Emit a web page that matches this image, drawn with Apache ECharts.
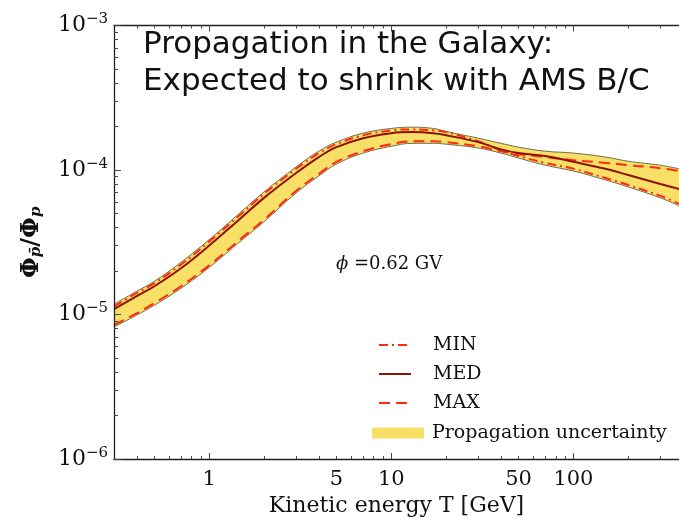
<!DOCTYPE html>
<html>
<head>
<meta charset="utf-8">
<script src="https://cdn.jsdelivr.net/npm/echarts@6/dist/echarts.min.js"></script>
<style>html,body{margin:0;padding:0;background:#fff;}#c{width:679px;height:522px;}</style>
</head>
<body>
<div id="c"></div>
<script>
// Kinetic energy T [GeV]
var energies = [0.3,0.4,0.5,0.7,1,1.5,2,3,4,5,7,10,13,17,20,30,40,50,70,100,150,200,300,380];
var minCurve = [1.14e-5,1.41e-5,1.65e-5,2.22e-5,3.20e-5,4.98e-5,6.84e-5,1.02e-4,1.31e-4,1.51e-4,1.74e-4,1.88e-4,1.91e-4,1.88e-4,1.83e-4,1.58e-4,1.37e-4,1.25e-4,1.12e-4,1.02e-4,8.81e-5,7.88e-5,6.63e-5,5.84e-5];
var medCurve = [1.09e-5,1.34e-5,1.57e-5,2.09e-5,3.00e-5,4.68e-5,6.42e-5,9.54e-5,1.23e-4,1.44e-4,1.66e-4,1.80e-4,1.83e-4,1.80e-4,1.74e-4,1.56e-4,1.39e-4,1.31e-4,1.25e-4,1.14e-4,1.02e-4,9.24e-5,8.01e-5,7.40e-5];
var maxCurve = [8.47e-6,1.02e-5,1.20e-5,1.57e-5,2.19e-5,3.36e-5,4.53e-5,7.17e-5,9.39e-5,1.14e-4,1.35e-4,1.51e-4,1.58e-4,1.58e-4,1.56e-4,1.46e-4,1.35e-4,1.29e-4,1.23e-4,1.17e-4,1.12e-4,1.08e-4,1.03e-4,9.84e-5];
var bandUpper = [1.18e-5,1.45e-5,1.70e-5,2.30e-5,3.30e-5,5.15e-5,7.06e-5,1.05e-4,1.35e-4,1.56e-4,1.80e-4,1.94e-4,1.98e-4,1.94e-4,1.85e-4,1.66e-4,1.53e-4,1.44e-4,1.35e-4,1.31e-4,1.23e-4,1.15e-4,1.08e-4,1.02e-4];
var bandLower = [8.21e-6,9.92e-6,1.16e-5,1.52e-5,2.12e-5,3.25e-5,4.39e-5,6.95e-5,9.10e-5,1.10e-4,1.31e-4,1.46e-4,1.53e-4,1.53e-4,1.51e-4,1.42e-4,1.31e-4,1.21e-4,1.08e-4,9.84e-5,8.54e-5,7.64e-5,6.42e-5,5.66e-5];

var xTickLabels = [1,5,10,50,100];
var xMajorTicks = [1,10,100];
var xMinorTicks = [0.4,0.5,0.6,0.7,0.8,0.9,2,3,4,5,6,7,8,9,20,30,40,50,60,70,80,90,200,300];
var yMajorTicks = [1e-6,1e-5,1e-4,1e-3];
var yMinorTicks = [2e-6,3e-6,4e-6,5e-6,6e-6,7e-6,8e-6,9e-6,2e-5,3e-5,4e-5,5e-5,6e-5,7e-5,8e-5,9e-5,2e-4,3e-4,4e-4,5e-4,6e-4,7e-4,8e-4,9e-4];
var xRange = [0.3, 380];
var yRange = [1e-6, 1e-3];

var SERIF = '"DejaVu Serif", serif';
function pairs(ys){ return energies.map(function(t,i){ return [t, ys[i]]; }); }

function xAx(pos, ticks, len, showLine, labels){
  return {
    type:'log', min:xRange[0], max:xRange[1], position:pos, z:10,
    axisLine:{show:showLine, lineStyle:{color:'#222', width:1.3}},
    axisTick:{show:true, inside:true, length:len, customValues:ticks, lineStyle:{color:'#444', width:1}},
    axisLabel: labels ? {show:true, customValues:labels, margin:10, color:'#111', fontFamily:SERIF, fontSize:21,
      formatter:function(v){ return String(Math.round(v*1000)/1000); }} : {show:false},
    splitLine:{show:false}, minorTick:{show:false},
    name: (labels ? 'Kinetic energy T [GeV]' : ''), nameLocation:'middle', nameGap:34,
    nameTextStyle:{fontFamily:SERIF, fontSize:22, color:'#111'}
  };
}
function yAx(ticks, len, showLine, labels){
  return {
    type:'log', min:yRange[0], max:yRange[1], position:'left', z:10,
    axisLine:{show:showLine, lineStyle:{color:'#222', width:1.3}},
    axisTick:{show:true, inside:true, length:len, customValues:ticks, lineStyle:{color:'#444', width:1}},
    axisLabel: labels ? {show:true, customValues:yMajorTicks, margin:6, color:'#111',
      formatter:function(v){ var e = Math.round(Math.log10(v)); return '{b|10}{s|\u2212' + Math.abs(e) + '}'; },
      rich:{b:{fontFamily:SERIF, fontSize:22, color:'#111', verticalAlign:'middle'},
            s:{fontFamily:SERIF, fontSize:15, color:'#111', verticalAlign:'top', padding:[0,0,12,0]}}} : {show:false},
    splitLine:{show:false},
    name: labels ? '{a|\u03A6}{s|p\u0304}{a|/\u03A6}{s|p}' : '', nameLocation:'middle', nameGap:70, nameRotate:90,
    nameTextStyle:{rich:{a:{fontFamily:SERIF, fontSize:24, fontWeight:'bold', color:'#111', verticalAlign:'middle'},
                         s:{fontFamily:SERIF, fontSize:15, fontWeight:'bold', fontStyle:'italic', color:'#111', verticalAlign:'bottom', padding:[8,0,0,0]}}}
  };
}

var option = {
  animation:false,
  backgroundColor:'#fff',
  grid:{left:114, right:0, top:25.5, bottom:60, containLabel:false},
  title:{text:'Propagation in the Galaxy:\nExpected to shrink with AMS B/C', left:138, top:21,
    textStyle:{fontFamily:'"DejaVu Sans", sans-serif', fontSize:31, fontWeight:'normal', color:'#111', lineHeight:37}},
  xAxis:[xAx('bottom', xMajorTicks, 6, true, xTickLabels), xAx('bottom', xMinorTicks, 3, false, null),
         xAx('top', xMajorTicks, 6, true, null), xAx('top', xMinorTicks, 3, false, null)],
  yAxis:[yAx(yMajorTicks, 7, true, true), yAx(yMinorTicks, 4, false, false)],
  legend:[
    {data:['MIN','MED','MAX'], orient:'vertical', left:378, top:335, padding:0, itemWidth:32, itemHeight:14, itemGap:9,
     itemStyle:{opacity:0},
     textStyle:{fontFamily:SERIF, fontSize:19, color:'#111', lineHeight:20, padding:[0,0,0,17]}},
    {data:[{name:'Propagation uncertainty', icon:'rect'}], orient:'vertical', left:372, top:423, padding:0, itemWidth:52, itemHeight:11,
     itemStyle:{borderWidth:0},
     textStyle:{fontFamily:SERIF, fontSize:19, color:'#111', lineHeight:20, padding:[0,0,0,3]}}
  ],
  graphic:[{type:'text', left:336, top:255, z:20, style:{text:'{i|\u03D5} =0.62 GV', fontFamily:SERIF, fontSize:18, fill:'#111',
    rich:{i:{fontStyle:'italic', fontFamily:SERIF, fontSize:18}}}}],
  series:[
    {name:'Propagation uncertainty', type:'line', data:pairs(bandUpper), smooth:0.4, symbol:'none',
     lineStyle:{color:'#6f6d55', width:1}, areaStyle:{color:'#f8df66', opacity:1, origin:'start'}, itemStyle:{color:'#f8df66'}, z:1},
    {name:'bandBase', type:'line', data:pairs(bandLower), smooth:0.4, symbol:'none', silent:true,
     lineStyle:{color:'#6f6d55', width:1}, areaStyle:{color:'#ffffff', opacity:1, origin:'start'}, itemStyle:{color:'#ffffff'}, z:2},
    {name:'MAX', type:'line', data:pairs(maxCurve), smooth:0.4, symbol:'none',
     lineStyle:{color:'#ff2a12', width:2, type:[11,6]}, itemStyle:{color:'#ff2a12'}, z:3},
    {name:'MIN', type:'line', data:pairs(minCurve), smooth:0.4, symbol:'none',
     lineStyle:{color:'#ff2a12', width:2, type:[9,4,2,4]}, itemStyle:{color:'#ff2a12'}, z:3},
    {name:'MED', type:'line', data:pairs(medCurve), smooth:0.4, symbol:'none',
     lineStyle:{color:'#8a1407', width:2}, itemStyle:{color:'#8a1407'}, z:4}
  ]
};
var chart = echarts.init(document.getElementById('c'), null, {renderer:'canvas'});
chart.setOption(option);
</script>
</body>
</html>
